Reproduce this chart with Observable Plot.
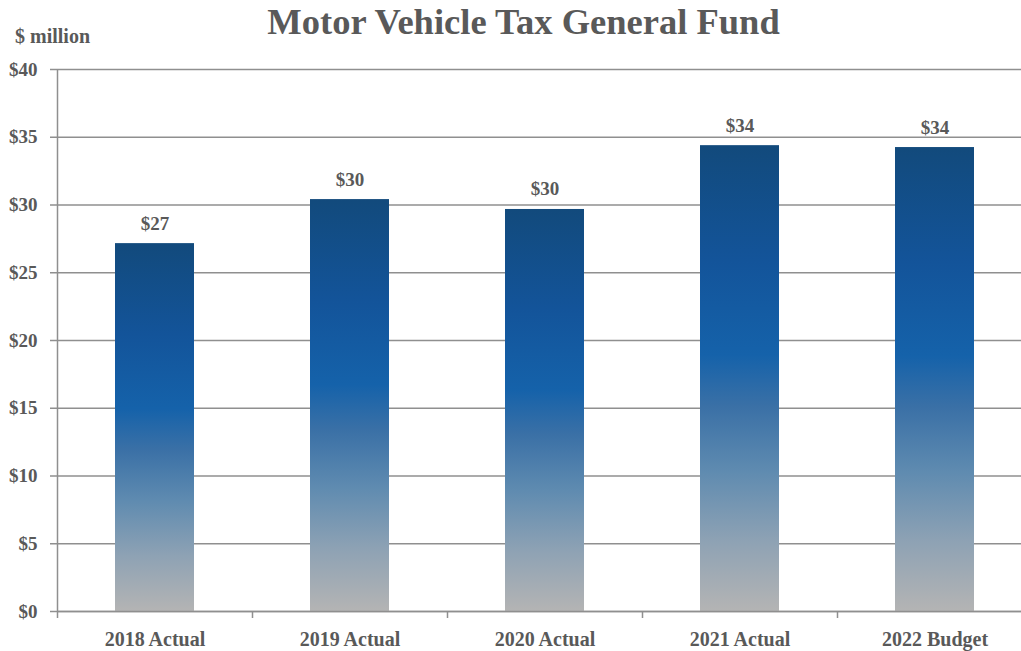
<!DOCTYPE html>
<html>
<head>
<meta charset="utf-8">
<script src="https://cdn.jsdelivr.net/npm/d3@7"></script>
<script src="https://cdn.jsdelivr.net/npm/@observablehq/plot@0.6"></script>
<style>
  html, body { margin: 0; padding: 0; background: #fff; }
  #wrap { position: relative; width: 1021px; height: 651px; overflow: hidden; font-family: "Liberation Serif", serif; color: #595959; }
  #header { position: relative; height: 52px; }
  #title { position: absolute; left: 0; width: 1047px; top: 3px; text-align: center; font-size: 36.5px; font-weight: bold; line-height: 38px; }
  #unit { position: absolute; left: 15px; top: 26px; font-size: 20px; font-weight: bold; line-height: 20px; }
  #chart svg { display: block; }
</style>
</head>
<body>
<div id="wrap">
  <div id="header">
    <div id="title">Motor Vehicle Tax General Fund</div>
    <div id="unit">$ million</div>
  </div>
  <div id="chart"></div>
</div>
<script>
const categories = ["2018 Actual", "2019 Actual", "2020 Actual", "2021 Actual", "2022 Budget"];
const values = [27.15, 30.4, 29.67, 34.38, 34.24];
const yTicks = [0, 5, 10, 15, 20, 25, 30, 35, 40];

const data = categories.map((c, i) => ({category: c, value: values[i]}));

const gridColor = "#8f8f8f";
const xRange = [57, 1032];
const step = (xRange[1] - xRange[0]) / categories.length;

const plot = Plot.plot({
  width: 1021,
  height: 599,
  marginLeft: 57,
  marginRight: 0,
  marginTop: 17,
  marginBottom: 40,
  style: {fontFamily: "Liberation Serif, serif", fontWeight: "bold", color: "#595959", fontSize: "19px", background: "#fff"},
  x: {domain: categories, range: xRange, paddingInner: 0.595, paddingOuter: 0.2975, align: 0.5},
  y: {domain: [0, 40]},
  marks: [
    Plot.gridY(yTicks, {stroke: gridColor, strokeOpacity: 1, strokeWidth: 1.5}),
    Plot.axisY(yTicks, {tickSize: 7, tickPadding: 13, tickFormat: d => "$" + d, label: null, stroke: gridColor, strokeWidth: 1.5, fill: "#595959", fontSize: 19}),
    Plot.ruleX([categories[0]], {x: d => d, dx: -step / 2, y1: 0, y2: 40, stroke: gridColor, strokeWidth: 1.5}),
    Plot.barY(data, {x: "category", y: "value", fill: "url(#barGrad)"}),
    Plot.ruleY([0], {stroke: gridColor, strokeWidth: 1.5}),
    Plot.text(data, {x: "category", y: "value", text: d => "$" + Math.round(d.value), lineAnchor: "bottom", dy: -14, fontSize: 19, fill: "#595959"}),
    Plot.axisX({tickSize: 7, dx: -step / 2, tickFormat: () => "", label: null, stroke: gridColor, strokeWidth: 1.5}),
    Plot.axisX({tickSize: 0, tickPadding: 20, label: null, fontSize: 20, fill: "#595959"})
  ]
});

const svg = d3.select(plot);
const grad = svg.insert("defs", ":first-child")
  .append("linearGradient")
  .attr("id", "barGrad")
  .attr("x1", 0).attr("y1", 0).attr("x2", 0).attr("y2", 1);
[
  [0, "#124a7c"],
  [0.25, "#13549a"],
  [0.45, "#1562aa"],
  [0.56, "#3a70a6"],
  [0.70, "#5f8bb0"],
  [0.85, "#8ea2b4"],
  [1, "#b4b4b4"]
].forEach(([o, c]) => grad.append("stop").attr("offset", o).attr("stop-color", c));

document.getElementById("chart").appendChild(plot);
</script>
</body>
</html>
